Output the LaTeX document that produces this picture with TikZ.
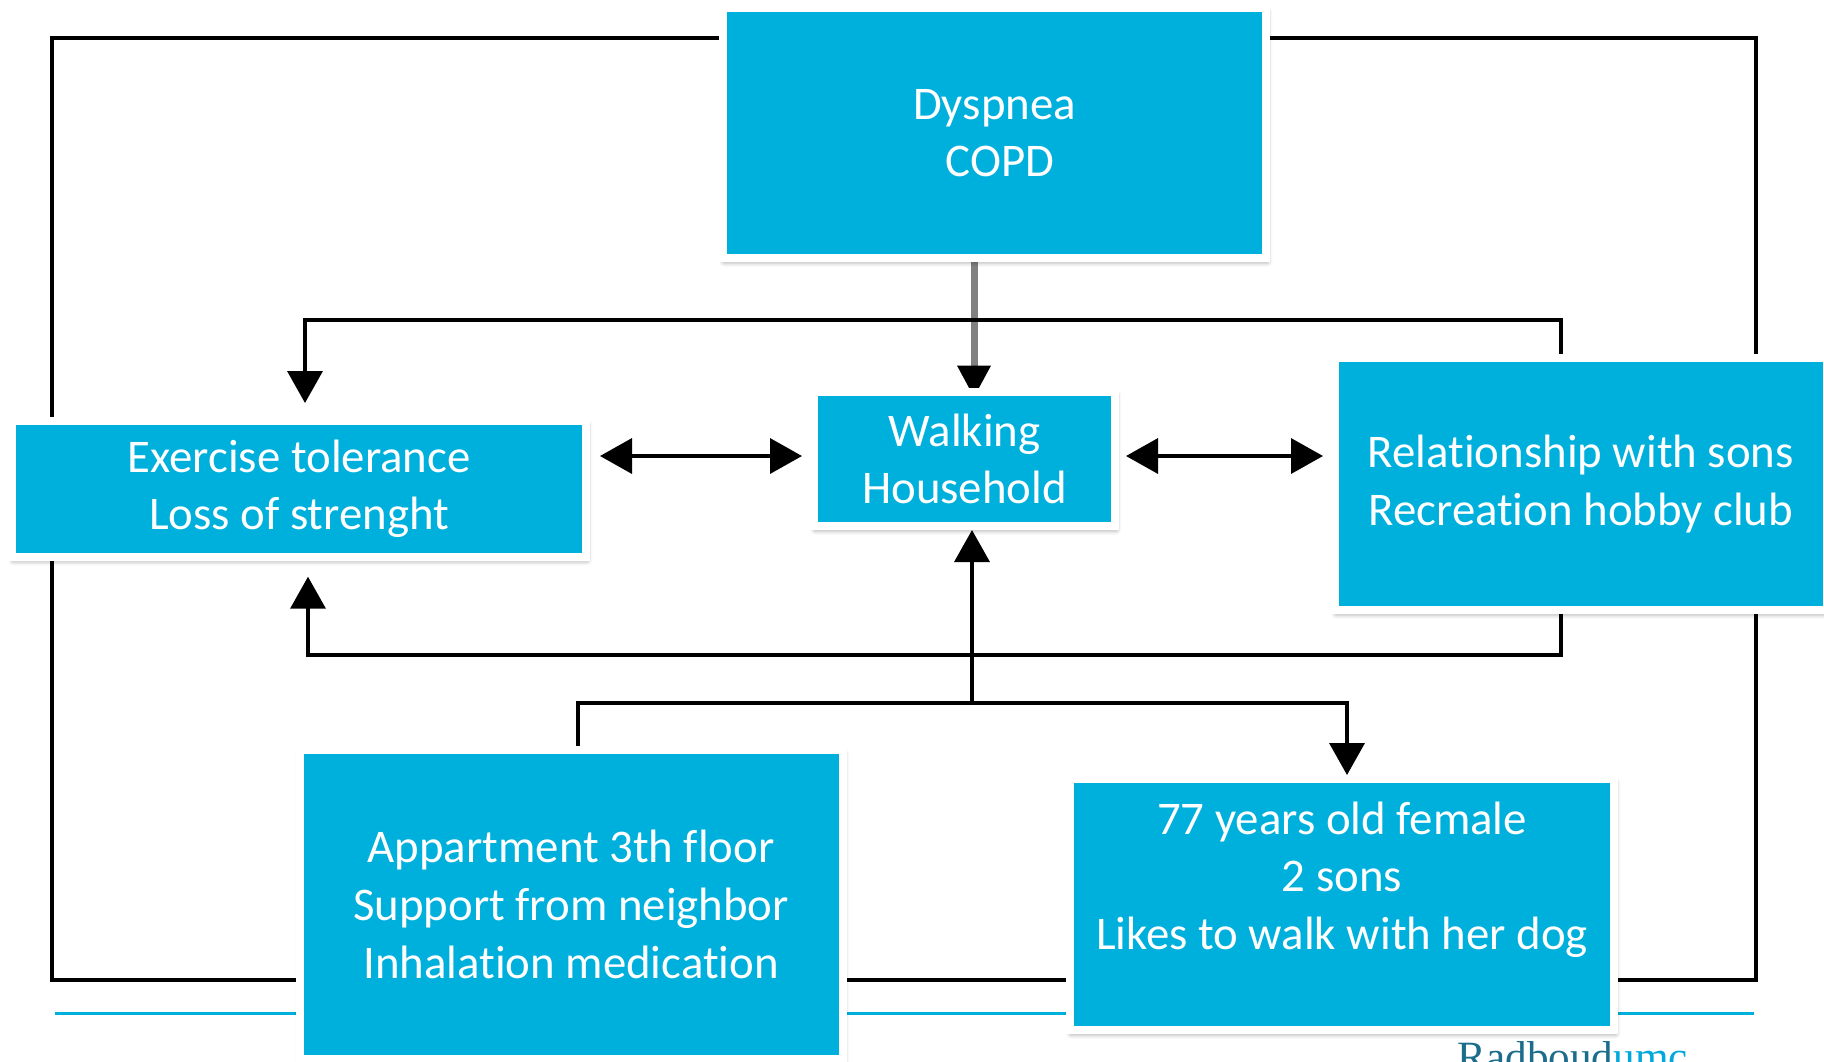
\documentclass[tikz,border=0pt]{standalone}
\usepackage{fontspec}
\setmainfont{Carlito}[Ligatures={NoCommon}]
\newfontfamily\logofont{Liberation Serif}
\usetikzlibrary{arrows.meta,backgrounds,shadows.blur}
\definecolor{rblue}{RGB}{0,176,220}
\definecolor{rgrayline}{RGB}{128,128,128}
\definecolor{logodark}{RGB}{28,108,140}
\definecolor{logolight}{RGB}{0,168,220}
\begin{document}
\begin{tikzpicture}[x=0.5pt,y=-0.5pt,
  box/.style={rectangle, fill=rblue, draw=white, line width=4pt, inner sep=0pt,
    text=white, align=center, font=\fontsize{23.4pt}{28.8pt}\selectfont,
    blur shadow={shadow xshift=0.6pt, shadow yshift=-1.8pt, shadow blur radius=2.6pt, shadow opacity=45}},
  conn/.style={draw=black, line width=1.8pt},
  tip/.style={-{Triangle[length=16pt,width=17.5pt]}},
  tips/.style={{Triangle[length=16pt,width=17.5pt]}-{Triangle[length=16pt,width=17.5pt]}},
  frameline/.style={draw=black, line width=1.8pt},
  footline/.style={draw=rblue, line width=1.5pt}
]
\useasboundingbox (0,0) rectangle (1824,1061);
\clip (0,0) rectangle (1824,1061);

% boxes
\node[box, minimum width=271.5pt, minimum height=125pt] (dys) at (994.5,133) {Dyspnea\\\mbox{}\ COPD};
\node[box, minimum width=150.5pt, minimum height=67.25pt] (wal) at (964.5,458.75) {Walking\\Household};
\node[box, minimum width=287pt, minimum height=67.85pt] (exe) at (299,488.85) {Exercise tolerance\\Loss of strenght};
\node[box, minimum width=245.85pt, minimum height=126.15pt] (rel) at (1580.85,483.85) {Relationship with sons\\Recreation hobby club};
\node[box, minimum width=271.5pt, minimum height=154.5pt] (app) at (571.15,904.5) {Appartment 3th floor\\Support from neighbor\\Inhalation medication};
\node[box, minimum width=272.25pt, minimum height=125.5pt] (yrs) at (1342,904.5) {77 years old female\\2 sons\\Likes to walk with her dog\\\mbox{}};

% logo
\node[anchor=base west, inner sep=0pt, font=\logofont\fontsize{21.6pt}{24pt}\selectfont] (logo) at (1457,1071)
  {\textcolor{logodark}{Radboud}\textcolor{logolight}{umc}};

% helper coordinates
\coordinate (xg) at (974,0);
\coordinate (xw) at (972,0);
\coordinate (xr) at (1561,0);
\coordinate (xe1) at (305,0);
\coordinate (xe2) at (308,0);
\coordinate (xa) at (578,0);
\coordinate (xy) at (1347,0);
\coordinate (yb) at (0,320);
\coordinate (ye) at (0,655);
\coordinate (yj) at (0,703);
\coordinate (ym) at (0,456);
\coordinate (fa) at (52,38);
\coordinate (fb) at (1756,980);
\coordinate (la) at (55,1013);
\coordinate (lb) at (1754,1013);

\begin{pgfonlayer}{background}
  \draw[frameline] (fa) rectangle (fb);
  \draw[footline] (la) -- (lb);
  \draw[draw=rgrayline, line width=3.5pt, -{Triangle[length=16pt,width=16pt,color=black]}, shorten >=-5pt]
    (dys.south -| xg) -- (wal.north -| xg);
  \draw[conn, tip, shorten >=7pt] (rel.north -| xr) -- (xr |- yb) -- (xe1 |- yb) -- (exe.north -| xe1);
  \draw[conn, tip, shorten >=8pt] (rel.south -| xr) -- (xr |- ye) -- (xe2 |- ye) -- (exe.south -| xe2);
  \draw[conn, tips, shorten <=5pt, shorten >=4pt] (exe.east |- ym) -- (wal.west |- ym);
  \draw[conn, tips, shorten <=3.5pt, shorten >=4pt] (wal.east |- ym) -- (rel.west |- ym);
  \draw[conn, tip] (app.north -| xa) -- (xa |- yj) -- (xw |- yj) -- (wal.south -| xw);
  \draw[conn, tip] (xw |- yj) -- (xy |- yj) -- (yrs.north -| xy);
\end{pgfonlayer}
\end{tikzpicture}
\end{document}
